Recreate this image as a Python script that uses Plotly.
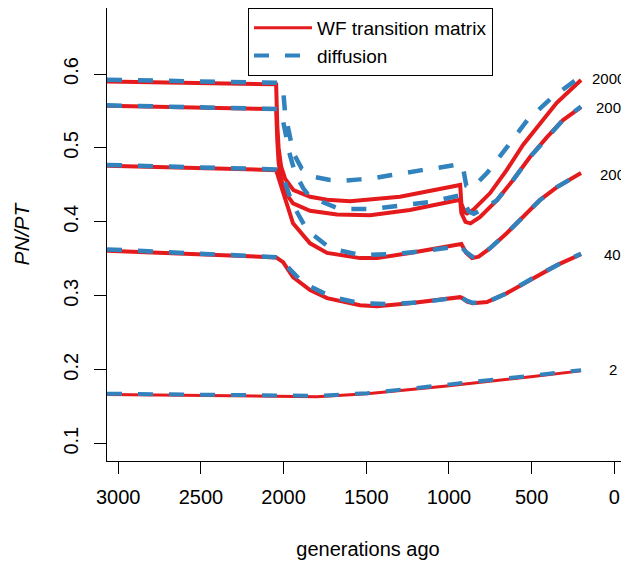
import plotly.graph_objects as go

RED = "#e41a1c"
BLUE = "#3182bd"

pop_sizes = ["2", "40", "200", "2000", "20000"]

# WF transition matrix (generations ago, PN/PT)
wf_gen_2 = [3068, 2500, 2000, 1800, 1495, 1013, 492, 201]
wf_2 = [0.1666, 0.1648, 0.1635, 0.1636, 0.1675, 0.178, 0.191, 0.1985]

wf_gen_40 = [3068, 2045, 2003, 1943, 1840, 1737, 1538, 1435, 1236, 932, 920, 890, 855, 770, 649, 492, 347, 201]
wf_40 = [0.361, 0.352, 0.3456, 0.3253, 0.3077, 0.2969, 0.2874, 0.286, 0.290, 0.2982, 0.297, 0.292, 0.290, 0.2915,
         0.3037, 0.324, 0.3415, 0.3564]

wf_gen_200 = [3068, 2045, 2010, 1943, 1840, 1737, 1538, 1435, 1236, 932, 925, 895, 860, 820, 751, 649, 552, 450, 347, 201]
wf_200 = [0.476, 0.470, 0.445, 0.398, 0.371, 0.358, 0.351, 0.351, 0.358, 0.371, 0.370, 0.358, 0.351, 0.353, 0.3645,
          0.385, 0.4065, 0.4295, 0.447, 0.466]

wf_gen_2000 = [3068, 2045, 2038, 2030, 2015, 1990, 1943, 1840, 1677, 1477, 1236, 932, 925, 900, 870, 813, 709, 612,
               510, 407, 310, 201]
wf_2000 = [0.557, 0.5526, 0.51, 0.48, 0.458, 0.440, 0.425, 0.415, 0.410, 0.409, 0.416, 0.430, 0.412, 0.400, 0.398,
           0.4065, 0.4295, 0.4566, 0.4877, 0.5147, 0.5378, 0.5553]

wf_gen_20000 = [3068, 2045, 2038, 2030, 2015, 1990, 1940, 1840, 1737, 1598, 1296, 932, 925, 905, 891, 855, 751, 651,
                552, 450, 348, 201]
wf_20000 = [0.590, 0.586, 0.53, 0.50, 0.475, 0.458, 0.443, 0.434, 0.430, 0.428, 0.434, 0.450, 0.425, 0.413, 0.4115,
            0.416, 0.439, 0.470, 0.504, 0.533, 0.561, 0.592]

# diffusion approximation
df_gen_2 = [3068, 2500, 2000, 1800, 1495, 1013, 492, 201]
df_2 = [0.1676, 0.166, 0.1648, 0.1648, 0.1683, 0.1792, 0.1922, 0.1995]

df_gen_40 = [3068, 2045, 2021, 2003, 1882, 1707, 1538, 1357, 1157, 975, 930, 890, 855, 770, 649, 492, 347, 201]
df_40 = [0.3628, 0.3537, 0.352, 0.3456, 0.3172, 0.2982, 0.2901, 0.2888, 0.2915, 0.297, 0.2985, 0.293, 0.2905,
         0.2915, 0.3037, 0.324, 0.3415, 0.357]

df_gen_200 = [3068, 2045, 2011, 1991, 1949, 1858, 1719, 1538, 1338, 1157, 975, 930, 900, 860, 820, 751, 649, 552,
              450, 347, 201]
df_200 = [0.477, 0.471, 0.467, 0.4525, 0.4254, 0.389, 0.3645, 0.355, 0.3564, 0.3605, 0.366, 0.3675, 0.360, 0.353,
          0.352, 0.3645, 0.385, 0.4065, 0.4295, 0.447, 0.466]

df_gen_2000 = [3068, 2030, 2011, 1991, 1961, 1930, 1880, 1840, 1659, 1477, 1296, 1115, 951, 932, 918, 880, 850, 790,
               709, 612, 510, 407, 310, 201]
df_2000 = [0.5576, 0.5526, 0.545, 0.52, 0.49, 0.466, 0.445, 0.4336, 0.4173, 0.4173, 0.4214, 0.4268, 0.435, 0.436,
           0.432, 0.414, 0.411, 0.418, 0.4295, 0.4566, 0.4877, 0.5147, 0.5378, 0.556]

df_gen_20000 = [3068, 2030, 2011, 2001, 1991, 1941, 1890, 1820, 1719, 1640, 1538, 1459, 1346, 1265, 1164, 1084, 975,
                932, 918, 895, 860, 770, 649, 525, 380, 225, 201]
df_20000 = [0.5923, 0.588, 0.585, 0.574, 0.547, 0.493, 0.472, 0.461, 0.4566, 0.4556, 0.4575, 0.4589, 0.4633, 0.4656,
            0.470, 0.4724, 0.4769, 0.4782, 0.477, 0.449, 0.4457, 0.466, 0.501, 0.5378, 0.5675, 0.5946, 0.597]

wf_gens = [wf_gen_2, wf_gen_40, wf_gen_200, wf_gen_2000, wf_gen_20000]
wf_vals = [wf_2, wf_40, wf_200, wf_2000, wf_20000]
df_gens = [df_gen_2, df_gen_40, df_gen_200, df_gen_2000, df_gen_20000]
df_vals = [df_2, df_40, df_200, df_2000, df_20000]
label_y = [0.2008, 0.3564, 0.4647, 0.5553, 0.5946]

FONT = "Liberation Sans, Arial, Helvetica, sans-serif"

fig = go.Figure()

for i, n in enumerate(pop_sizes):
    fig.add_trace(go.Scatter(
        x=wf_gens[i], y=wf_vals[i], mode="lines",
        line=dict(color=RED, width=3 if n == "2" else 4),
        name="WF transition matrix", legendgroup="wf", showlegend=(i == 0),
        hoverinfo="skip"))

for i, n in enumerate(pop_sizes):
    fig.add_trace(go.Scatter(
        x=df_gens[i], y=df_vals[i], mode="lines",
        line=dict(color=BLUE, width=4 if n == "2" else 4.5, dash="15px,16px"),
        name="diffusion", legendgroup="df", showlegend=(i == 0),
        hoverinfo="skip"))

for n, yv in zip(pop_sizes, label_y):
    fig.add_annotation(x=10, y=yv, text=n, showarrow=False, xanchor="center", yanchor="middle",
                       font=dict(size=15, color="black", family=FONT))

# the page body adds 8px around the figure, so the margins are 8px smaller
fig.update_layout(
    width=621, height=555,
    margin=dict(l=99, r=0, t=0, b=102),
    plot_bgcolor="white", paper_bgcolor="white",
    font=dict(family=FONT, color="black", size=20),
    legend=dict(x=0.2701, y=1, xanchor="left", yanchor="top",
                bordercolor="black", borderwidth=1, bgcolor="white",
                font=dict(size=19, family=FONT), tracegroupgap=0, itemwidth=58),
)

fig.update_xaxes(
    range=[3068, -89], tickvals=[3000, 2500, 2000, 1500, 1000, 500, 0],
    showgrid=False, zeroline=False, automargin=False,
    showline=True, mirror=True, linecolor="black", linewidth=1,
    ticks="outside", ticklen=12, tickwidth=1, tickcolor="black",
    ticklabelstandoff=6,
    tickfont=dict(size=20),
    title=dict(text="generations ago", standoff=34, font=dict(size=20)),
)

fig.update_yaxes(
    range=[0.0766, 0.6893], tickvals=[0.1, 0.2, 0.3, 0.4, 0.5, 0.6],
    showgrid=False, zeroline=False, automargin=False,
    showline=True, mirror=False, linecolor="black", linewidth=1,
    ticks="outside", ticklen=12, tickwidth=1, tickcolor="black",
    tickangle=-90, ticklabelstandoff=8,
    tickfont=dict(size=20),
    title=dict(text="<i>PN/PT</i>", standoff=24, font=dict(size=21)),
)

fig.write_html("out.html")
